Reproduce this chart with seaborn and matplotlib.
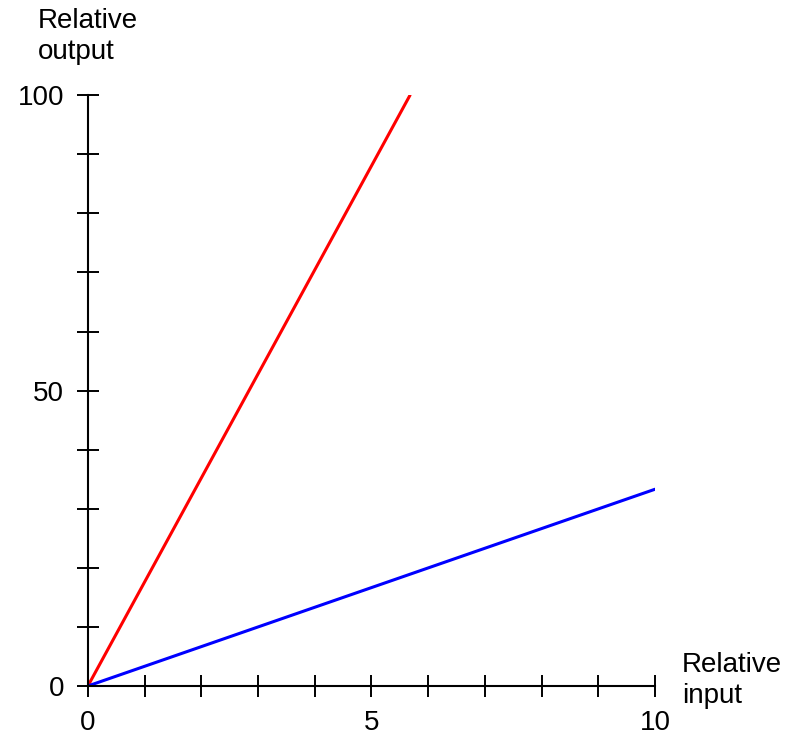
import matplotlib
matplotlib.use("Agg")
import matplotlib.pyplot as plt
import seaborn as sns
import pandas as pd

# chart values
red_input = [0, 5.68]
red_output = [0, 100]
blue_input = [0, 10]
blue_output = [0, 33.3]

x_ticks = list(range(0, 11))
x_labels = ["0", "", "", "", "", "5", "", "", "", "", "10"]
y_ticks = list(range(0, 101, 10))
y_labels = ["0", "", "", "", "", "50", "", "", "", "", "100"]

sns.set_style("white")
plt.rcParams['font.family'] = ['Liberation Sans', 'DejaVu Sans']
plt.rcParams['text.color'] = 'black'

fig = plt.figure(figsize=(7.92, 7.38), dpi=100)
ax = fig.add_axes([0.111, 0.0705, 0.716, 0.8005])

dfRed = pd.DataFrame({"input": red_input, "output": red_output})
dfBlue = pd.DataFrame({"input": blue_input, "output": blue_output})
sns.lineplot(data=dfRed, x="input", y="output", color="#ff0000", lw=2.2, ax=ax)
sns.lineplot(data=dfBlue, x="input", y="output", color="#0000ff", lw=2.2, ax=ax)

ax.set_xlim(0, 10)
ax.set_ylim(0, 100)
ax.set_xticks(x_ticks)
ax.set_xticklabels(x_labels)
ax.set_yticks(y_ticks)
ax.set_yticklabels(y_labels)
ax.tick_params(bottom=True, left=True, direction="inout", length=16, width=1.4,
               color="black", labelsize=20, labelcolor="black")
ax.tick_params(axis="x", pad=9)
ax.tick_params(axis="y", pad=9)
ax.set_xlabel("")
ax.set_ylabel("")

for side in ["top", "right"]:
    ax.spines[side].set_visible(False)
for side in ["left", "bottom"]:
    ax.spines[side].set_color("black")
    ax.spines[side].set_linewidth(1.5)
ax.patch.set_alpha(0)

fig.text(38 / 792, 1 - 8 / 738, "Relative\noutput", fontsize=20, va="top", ha="left",
         linespacing=1.25, color="black")
fig.text(682 / 792, 1 - 652 / 738, "Relative\ninput", fontsize=20, va="top", ha="left",
         linespacing=1.25, color="black")

fig.savefig("out.png", dpi=100)
